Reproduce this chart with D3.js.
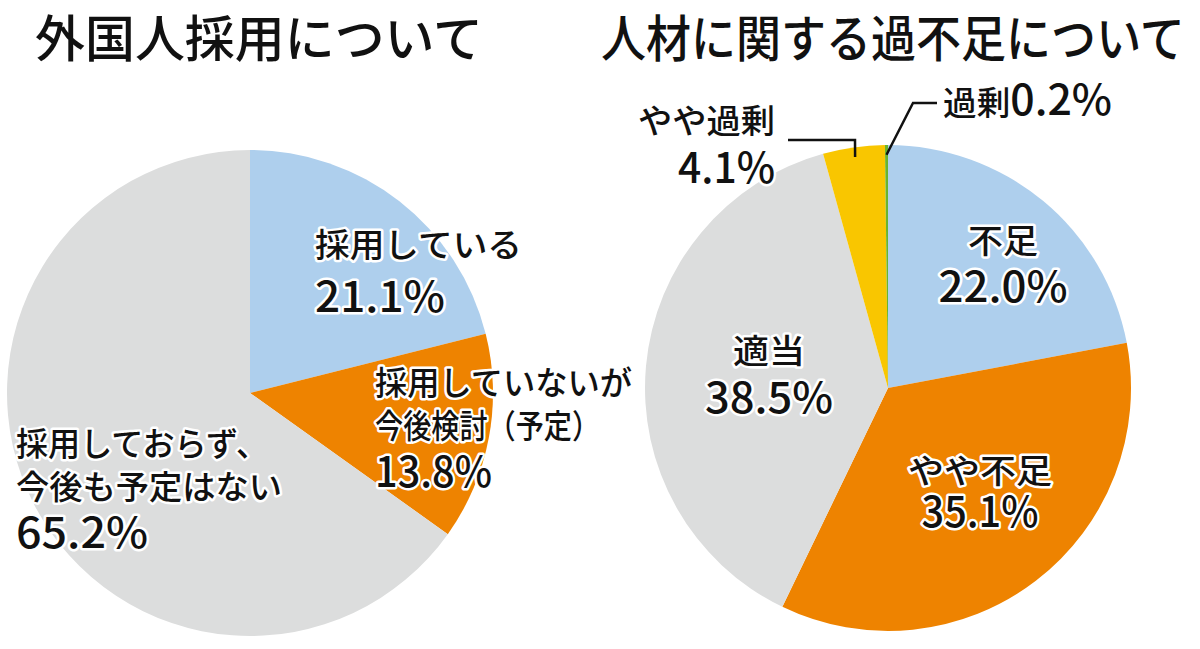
<!DOCTYPE html>
<html lang="ja">
<head>
<meta charset="UTF-8">
<title>外国人採用について / 人材に関する過不足について</title>
<style>
    body { margin: 0; background: #fff; }
    svg { display: block; font-family: "Noto Sans CJK JP", "Noto Sans", sans-serif; }
    .title { font-size: 50px; font-weight: 500; fill: #111; }
    .lbl { font-size: 33px; font-weight: 500; fill: #111; stroke: #fff; stroke-width: 5px; stroke-linejoin: round; paint-order: stroke; }
    .pct { font-size: 42px; }
    .leader { fill: none; stroke: #111; stroke-width: 2.5px; }
</style>
</head>
<body>
<script src="https://cdn.jsdelivr.net/npm/d3@7/dist/d3.min.js"></script>
<script>
// data
const leftTitle = "外国人採用について";
const leftCategories = ["採用している", "採用していないが今後検討（予定）", "採用しておらず、今後も予定はない"];
const leftValues = [21.1, 13.8, 65.2];
const leftColors = ["#aecfed", "#ee8300", "#dcdddd"];

const rightTitle = "人材に関する過不足について";
const rightCategories = ["不足", "やや不足", "適当", "やや過剰", "過剰"];
const rightValues = [22.0, 35.1, 38.5, 4.1, 0.2];
const rightColors = ["#aecfed", "#ee8300", "#dcdddd", "#f9c600", "#6ab42e"];

// label layout: category text lines, then the percent line
const leftLabels = [
    { lines: ["採用している"], x: 315, y: 257, anchor: "start", w: [207], pw: 130, py: 312 },
    { lines: ["採用していないが", "今後検討（予定）"], x: 375, y: 395, anchor: "start", w: [257, 225], pw: 117, py: 487 },
    { lines: ["採用しておらず、", "今後も予定はない"], x: 16, y: 456, anchor: "start", w: [252, 266], pw: 132, py: 548 }
];
const rightLabels = [
    { lines: ["不足"], x: 1003, y: 253, anchor: "middle", w: [70], pw: 129, py: 302 },
    { lines: ["やや不足"], x: 980, y: 483, anchor: "middle", w: [144], pw: 117, py: 527 },
    { lines: ["適当"], x: 769, y: 363, anchor: "middle", w: [72], pw: 128, py: 413 },
    { lines: ["やや過剰"], x: 775, y: 133, anchor: "end", w: [137], pw: 97, py: 183, leader: [[788, 140], [855, 140]] },
    { lines: ["過剰"], x: 943, y: 115, anchor: "start", w: [169], inline: true, leader: [[937, 103], [913, 103]] }
];

const width = 1200, height = 649;
const svg = d3.select("body").append("svg")
    .attr("width", width)
    .attr("height", height);

// titles: the right one is set a little condensed
function title(t, x, y, w) {
    const el = svg.append("text").attr("class", "title").text(t);
    const natural = el.node().getComputedTextLength();
    el.attr("transform", `translate(${x},${y}) scale(${w / natural},1)`);
}
title(leftTitle, 35, 57, 448);
title(rightTitle, 601, 57, 584);

function drawPie(cx, cy, r, values, colors, labels) {
    const pie = d3.pie().sort(null).value(d => d);
    const arcs = pie(values);
    const arc = d3.arc().innerRadius(0).outerRadius(r);
    const g = svg.append("g").attr("transform", `translate(${cx},${cy})`);

    g.selectAll("path")
        .data(arcs)
        .enter()
        .append("path")
        .attr("d", arc)
        .attr("fill", (d, i) => colors[i]);

    const fmt = v => v.toFixed(1) + "%";

    labels.forEach((lb, i) => {
        const a = arcs[i];
        if (lb.leader) {
            // inner end sits on the slice, at its middle angle
            const mid = (a.startAngle + a.endAngle) / 2;
            const rr = r * 0.96;
            const pts = lb.leader.concat([[cx + rr * Math.sin(mid), cy - rr * Math.cos(mid)]]);
            svg.append("path").attr("class", "leader")
                .attr("d", d3.line()(pts));
        }
        lb.lines.forEach((t, k) => {
            const txt = svg.append("text").attr("class", "lbl")
                .attr("x", lb.x)
                .attr("y", lb.y + k * 43)
                .attr("text-anchor", lb.anchor)
                .attr("textLength", lb.w[k])
                .attr("lengthAdjust", "spacingAndGlyphs")
                .text(t);
            if (lb.inline) {
                txt.append("tspan").attr("font-size", 42).text(fmt(values[i]));
            }
        });
        if (!lb.inline) {
            svg.append("text").attr("class", "lbl pct")
                .attr("x", lb.x)
                .attr("y", lb.py)
                .attr("text-anchor", lb.anchor)
                .attr("textLength", lb.pw)
                .attr("lengthAdjust", "spacingAndGlyphs")
                .text(fmt(values[i]));
        }
    });
}

drawPie(250, 393, 243, leftValues, leftColors, leftLabels);
drawPie(888, 388, 243, rightValues, rightColors, rightLabels);
</script>
</body>
</html>
